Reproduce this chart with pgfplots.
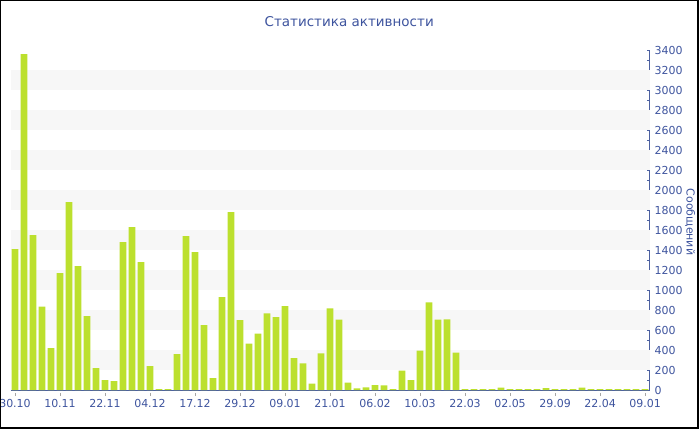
\documentclass[border=0pt]{standalone}
\usepackage{fontspec}
\setmainfont{DejaVu Sans}
\usepackage{pgfplots}
\pgfplotsset{compat=1.18}

\definecolor{barc}{RGB}{188,224,46}
\definecolor{stripe}{RGB}{247,247,247}
\definecolor{txtc}{RGB}{62,84,158}
\definecolor{axc}{RGB}{76,96,160}

\begin{document}
\begin{tikzpicture}
\begin{axis}[
    name=ax, at={(0,0)}, anchor=south west,
    scale only axis, width=639bp, height=340bp,
    xmin=-0.5, xmax=70.5, ymin=0, ymax=3400,
    axis x line*=bottom, axis y line*=right,
    axis line style={draw=axc, line width=0.8bp},
    tick align=inside, major tick length=3bp, minor tick length=3bp,
    tick style={draw=axc, line width=0.6bp},
    x tick style={draw=gray!70, yshift=-3bp},
    xtick={0,5,...,70},
    xticklabels={30.10,10.11,22.11,04.12,17.12,29.12,09.01,21.01,06.02,10.03,22.03,02.05,29.09,22.04,09.01},
    ytick={0,200,...,3400}, minor y tick num=1,
    ticklabel style={font=\fontsize{11bp}{13bp}\selectfont, text=txtc},
    xticklabel style={anchor=base, yshift=-14.5bp},
    yticklabel style={xshift=1.5bp},
    /pgf/number format/assume math mode=true,
    /pgf/number format/1000 sep={},
    extra y ticks={300,700,...,3100}, extra y tick labels={},
    extra y tick style={grid=major, major grid style={draw=stripe, line width=20bp}, major tick length=0pt},
    title={Статистика активности},
    title style={at={(rel axis cs:0.53,1)}, anchor=base, yshift=18bp,
      font=\fontsize{13.5bp}{16bp}\selectfont, text=txtc},
    ybar, bar width=0.74,
]
\addplot[fill=barc, draw=none] coordinates {
(0,1410) (1,3360) (2,1550) (3,835) (4,420) (5,1170) (6,1880) (7,1240) (8,740) (9,220)
(10,100) (11,90) (12,1480) (13,1630) (14,1280) (15,240) (16,10) (17,10) (18,360) (19,1540)
(20,1380) (21,650) (22,120) (23,930) (24,1780) (25,700) (26,463) (27,563) (28,767) (29,730)
(30,840) (31,320) (32,267) (33,63) (34,367) (35,817) (36,703) (37,73) (38,17) (39,27)
(40,50) (41,47) (42,10) (43,193) (44,100) (45,393) (46,877) (47,703) (48,707) (49,373)
(50,10) (51,10) (52,10) (53,10) (54,25) (55,10) (56,10) (57,10) (58,10) (59,20)
(60,10) (61,10) (62,10) (63,25) (64,10) (65,10) (66,10) (67,10) (68,10) (69,10)
(70,10)
};
\end{axis}
\begin{scope}[shift={(ax.south west)}, x=1bp, y=1bp]
\draw[line width=2bp] (-10.5,390) rectangle (687.5,-38);
\node[rotate=-90, anchor=south, inner sep=0pt, text=txtc,
  font=\fontsize{11bp}{13bp}\selectfont] at (674.5,168) {Сообщений};
\pgfresetboundingbox
\useasboundingbox (-10.5,-40) rectangle (689.5,390);
\end{scope}
\end{tikzpicture}
\end{document}
